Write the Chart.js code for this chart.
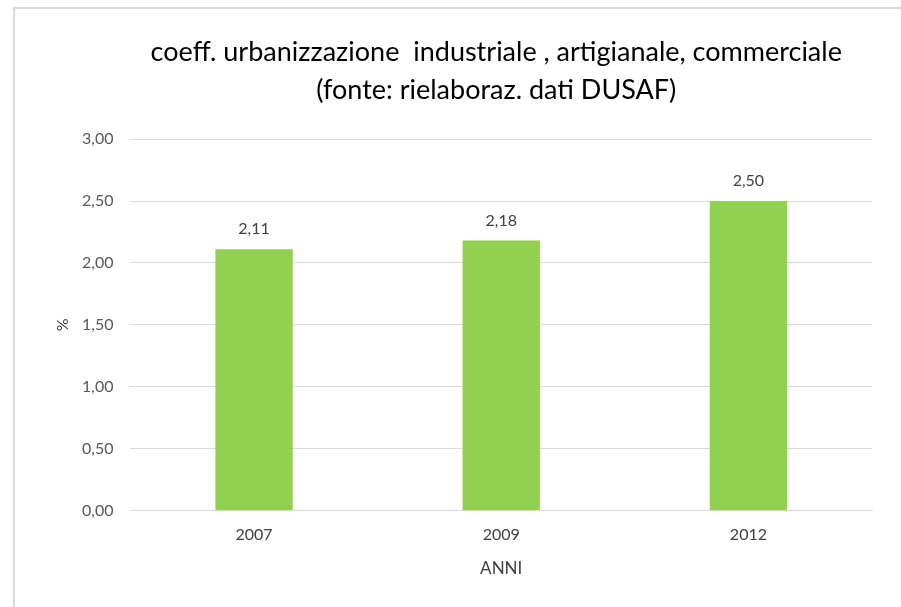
<!DOCTYPE html>
<html>
<head>
    <title>coeff. urbanizzazione industriale</title>
    <script src="https://cdn.jsdelivr.net/npm/chart.js"></script>
    <style>
        body { margin: 0; background: #fff; }
        #frame { position: absolute; left: 13px; top: 7px; width: 900px; height: 610px;
                 border-left: 2px solid #d9d9d9; border-top: 2px solid #d9d9d9; }
        #wrap { position: absolute; left: 0; top: 0; width: 901px; height: 607px; }
    </style>
</head>
<body>
    <div id="frame"></div>
    <div id="wrap"><canvas id="urbChart"></canvas></div>
    <script>
        const anni = ['2007', '2009', '2012'];
        const coeff = [2.11, 2.18, 2.50];
        const titolo = ['coeff. urbanizzazione  industriale , artigianale, commerciale',
                        '(fonte: rielaboraz. dati DUSAF)'];

        const fmt = v => v.toFixed(2).replace('.', ',');

        // etichette sopra le barre
        const valueLabels = {
            id: 'valueLabels',
            afterDatasetsDraw(chart) {
                const ctx = chart.ctx;
                ctx.save();
                ctx.font = '16px Lato';
                ctx.fillStyle = '#404040';
                ctx.textAlign = 'center';
                ctx.textBaseline = 'middle';
                chart.getDatasetMeta(0).data.forEach((bar, i) => {
                    ctx.fillText(fmt(coeff[i]), bar.x, bar.y - 20);
                });
                ctx.restore();
            }
        };

        // il titolo nell'originale sta un po' a sinistra del centro del grafico
        const shiftTitle = {
            id: 'shiftTitle',
            afterLayout(chart) {
                const t = chart.titleBlock;
                if (t) { t.left -= 5; t.right -= 5; }
            }
        };

        const ctx = document.getElementById('urbChart').getContext('2d');
        new Chart(ctx, {
            type: 'bar',
            data: {
                labels: anni,
                datasets: [{
                    data: coeff,
                    backgroundColor: '#92d050',
                    barPercentage: 0.313,
                    categoryPercentage: 1
                }]
            },
            options: {
                responsive: true,
                maintainAspectRatio: false,
                animation: false,
                layout: { padding: { left: 55, right: 29, top: 33, bottom: 28 } },
                plugins: {
                    legend: { display: false },
                    tooltip: { enabled: false },
                    title: {
                        display: true,
                        fullSize: false,
                        text: titolo,
                        color: '#000',
                        font: { family: 'Lato', size: 27, weight: 'normal', lineHeight: 1.41 },
                        padding: { top: 0, bottom: 30 }
                    }
                },
                scales: {
                    x: {
                        grid: { display: false },
                        border: { color: '#d9d9d9' },
                        ticks: { color: '#404040', font: { family: 'Lato', size: 16 }, padding: 7 },
                        title: { display: true, text: 'ANNI', color: '#404040',
                                 font: { family: 'Lato', size: 17 }, padding: { top: 7, bottom: 0 } }
                    },
                    y: {
                        min: 0,
                        max: 3,
                        border: { display: false },
                        grid: { color: '#d9d9d9', drawTicks: false },
                        ticks: { stepSize: 0.5, color: '#595959', padding: 17,
                                 font: { family: 'Lato', size: 16 },
                                 callback: v => fmt(v) },
                        title: { display: true, text: '%', color: '#404040',
                                 font: { family: 'Lato', size: 16, lineHeight: 1 },
                                 padding: { top: 0, bottom: -6 } }
                    }
                }
            },
            plugins: [valueLabels, shiftTitle]
        });
    </script>
</body>
</html>
